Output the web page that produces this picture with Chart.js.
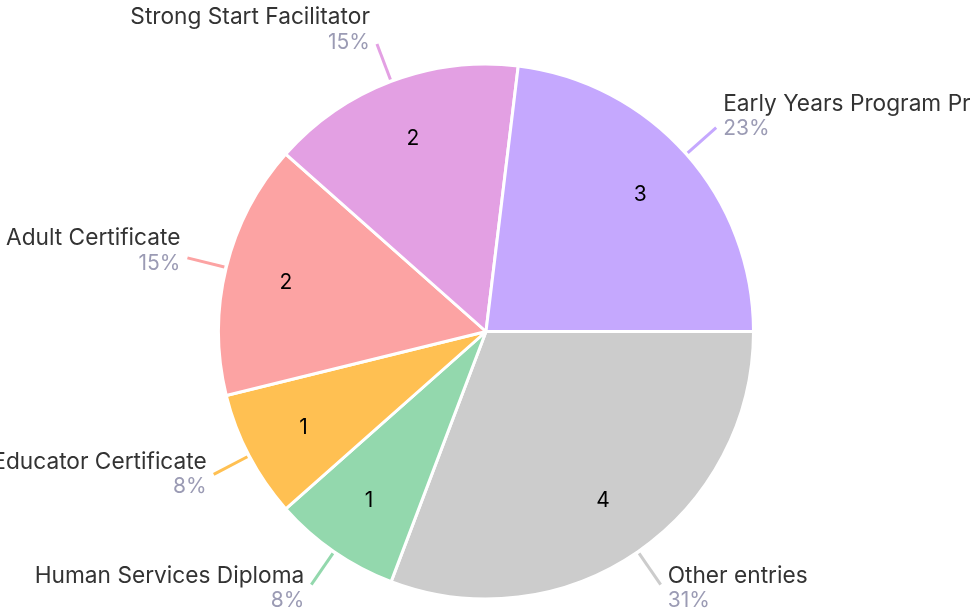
<!DOCTYPE html>
<html>
<head>
<meta charset="utf-8">
<script src="https://cdn.jsdelivr.net/npm/chart.js@4/dist/chart.umd.min.js"></script>
<style>
  html, body { margin: 0; padding: 0; background: #fff; }
  #wrap { width: 970px; height: 609px; }
</style>
</head>
<body>
<div id="wrap"><canvas id="pieChart"></canvas></div>
<script>
var labels = ['Other entries', 'Human Services Diploma', 'Early Childhood Educator Certificate', 'Early Childhood Adult Certificate', 'Strong Start Facilitator', 'Early Years Program Provider'];
var values = [4, 1, 1, 2, 2, 3];
var colors = ['#cccccc', '#93d8ad', '#ffc052', '#fca3a3', '#e3a0e3', '#c5a8fe'];

var total = values.reduce(function (a, b) { return a + b; }, 0);
var fontName = "Inter, 'Noto Sans', sans-serif";

var outsideLabels = {
  id: 'outsideLabels',
  afterDatasetsDraw: function (chart) {
    var ctx = chart.ctx;
    var meta = chart.getDatasetMeta(0);
    meta.data.forEach(function (arc, i) {
      var mid = (arc.startAngle + arc.endAngle) / 2;
      var r = arc.outerRadius;
      var cos = Math.cos(mid), sin = Math.sin(mid);

      // value inside slice
      ctx.save();
      ctx.fillStyle = '#000';
      ctx.font = '21px ' + fontName;
      ctx.textAlign = 'center';
      ctx.textBaseline = 'middle';
      ctx.fillText(values[i], arc.x + cos * r * 0.77, arc.y + sin * r * 0.77);

      // leader line
      var x1 = arc.x + cos * (r + 2), y1 = arc.y + sin * (r + 2);
      var x2 = arc.x + cos * (r + 40), y2 = arc.y + sin * (r + 40);
      ctx.strokeStyle = colors[i];
      ctx.lineWidth = 3;
      ctx.beginPath();
      ctx.moveTo(x1, y1);
      ctx.lineTo(x2, y2);
      ctx.stroke();

      // name + percent
      var right = cos >= 0;
      var tx = right ? x2 + 7 : x2 - 7;
      var pctY = y2 + 8 + 10 * sin;
      ctx.textAlign = right ? 'left' : 'right';
      ctx.textBaseline = 'middle';
      ctx.fillStyle = '#333333';
      ctx.font = '22.7px ' + fontName;
      ctx.fillText(labels[i], tx, pctY - 25);
      ctx.fillStyle = '#9b9bb4';
      ctx.font = '21px ' + fontName;
      ctx.fillText(Math.round(values[i] / total * 100) + '%', tx, pctY);
      ctx.restore();
    });
  }
};

var pieCtx = document.getElementById('pieChart').getContext('2d');
var pieChart = new Chart(pieCtx, {
  type: 'pie',
  data: {
    labels: labels,
    datasets: [{
      data: values,
      backgroundColor: colors,
      borderColor: '#ffffff',
      borderWidth: 3
    }]
  },
  options: {
    responsive: true,
    maintainAspectRatio: false,
    animation: false,
    rotation: 90,
    layout: {
      padding: { top: 62, bottom: 8, left: 217, right: 215 }
    },
    plugins: {
      legend: { display: false },
      tooltip: { enabled: false }
    }
  },
  plugins: [outsideLabels]
});
</script>
</body>
</html>
